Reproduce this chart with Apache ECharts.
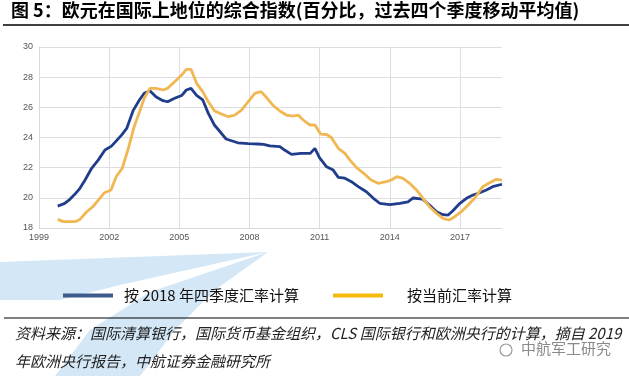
<!DOCTYPE html>
<html>
<head>
<meta charset="utf-8">
<script src="https://cdn.jsdelivr.net/npm/echarts@6/dist/echarts.min.js"></script>
<style>
  * { margin: 0; padding: 0; }
  body { background: #fff; }
  #main { width: 629px; height: 376px; }
</style>
</head>
<body>
<div id="main"></div>
<script>
// 按2018年四季度汇率计算
var blueYears = [1999.8, 2000.1, 2000.32, 2000.54, 2000.75, 2000.97, 2001.25, 2001.53, 2001.82, 2002.1,
  2002.53, 2002.75, 2003.03, 2003.3, 2003.5, 2003.74, 2004.0, 2004.3, 2004.5, 2004.8,
  2005.1, 2005.3, 2005.5, 2005.74, 2006.0, 2006.24, 2006.5, 2006.8, 2007.0, 2007.5,
  2007.95, 2008.37, 2008.6, 2008.87, 2009.3, 2009.5, 2009.8, 2010.2, 2010.6, 2010.8,
  2011.0, 2011.3, 2011.58, 2011.8, 2012.08, 2012.36, 2012.65, 2013.0, 2013.3, 2013.57,
  2014.0, 2014.43, 2014.78, 2015.0, 2015.4, 2015.7, 2016.0, 2016.28, 2016.5, 2016.7,
  2017.0, 2017.28, 2017.56, 2017.85, 2018.13, 2018.4, 2018.8];
var blueValues = [19.45, 19.63, 19.9, 20.25, 20.63, 21.18, 21.96, 22.5, 23.17, 23.43,
  24.16, 24.6, 25.8, 26.5, 26.93, 27.1, 26.7, 26.44, 26.37, 26.6,
  26.78, 27.15, 27.26, 26.8, 26.5, 25.6, 24.83, 24.28, 23.9, 23.65,
  23.6, 23.57, 23.55, 23.45, 23.4, 23.17, 22.88, 22.95, 22.95, 23.28,
  22.65, 22.06, 21.84, 21.36, 21.3, 21.07, 20.74, 20.4, 19.97, 19.64,
  19.55, 19.64, 19.74, 19.99, 19.92, 19.52, 19.08, 18.88, 18.86, 19.14,
  19.64, 19.97, 20.19, 20.34, 20.52, 20.74, 20.9];

// 按当前汇率计算
var goldYears = [1999.8, 2000.04, 2000.54, 2000.75, 2001.04, 2001.3, 2001.6, 2001.8, 2002.08, 2002.3,
  2002.56, 2002.8, 2003.07, 2003.3, 2003.5, 2003.74, 2004.0, 2004.3, 2004.5, 2004.8,
  2005.1, 2005.3, 2005.5, 2005.74, 2006.0, 2006.24, 2006.5, 2006.8, 2007.1, 2007.37,
  2007.66, 2007.94, 2008.23, 2008.5, 2008.7, 2009.0, 2009.3, 2009.58, 2009.87, 2010.08,
  2010.3, 2010.58, 2010.8, 2011.05, 2011.3, 2011.5, 2011.8, 2012.08, 2012.3, 2012.58,
  2012.86, 2013.2, 2013.5, 2013.86, 2014.07, 2014.3, 2014.57, 2014.85, 2015.14, 2015.42,
  2015.7, 2016.0, 2016.28, 2016.54, 2016.78, 2017.06, 2017.35, 2017.63, 2017.98, 2018.27,
  2018.56, 2018.8];
var goldValues = [18.57, 18.42, 18.42, 18.57, 19.08, 19.41, 19.97, 20.34, 20.52, 21.4,
  21.96, 23.17, 24.72, 25.71, 26.6, 27.26, 27.26, 27.15, 27.26, 27.7,
  28.14, 28.52, 28.52, 27.59, 27.04, 26.37, 25.78, 25.56, 25.38, 25.49,
  25.82, 26.37, 26.93, 27.04, 26.7, 26.15, 25.76, 25.49, 25.42, 25.49,
  25.16, 24.83, 24.83, 24.22, 24.2, 24.0, 23.28, 22.95, 22.5, 22.0,
  21.66, 21.18, 20.96, 21.07, 21.18, 21.4, 21.29, 20.96, 20.52, 19.97,
  19.41, 18.97, 18.64, 18.53, 18.75, 19.08, 19.52, 19.97, 20.74, 21.0,
  21.23, 21.18];

var xTicks = [1999, 2002, 2005, 2008, 2011, 2014, 2017];
var seriesNames = ['按 2018 年四季度汇率计算', '按当前汇率计算'];

function pairs(xs, ys) {
  return xs.map(function (x, i) { return [x, ys[i]]; });
}

var chart = echarts.init(document.getElementById('main'));
var cjk = '"Noto Sans CJK SC", sans-serif';
var wmBlue = '#d3e7f6';

chart.setOption({
  backgroundColor: '#fff',
  animation: false,
  grid: { left: 39, right: 127, top: 47, bottom: 148 },
  xAxis: {
    type: 'value',
    min: 1999,
    max: 2018.8,
    axisLine: { show: true, lineStyle: { color: '#d9d9d9', width: 1 } },
    axisTick: { show: false, customValues: xTicks },
    axisLabel: {
      customValues: xTicks,
      formatter: function (v) { return String(v); },
      color: '#555', fontSize: 9, fontFamily: 'Arial', margin: 5
    },
    splitLine: { show: true, lineStyle: { color: '#dedede', width: 1 } }
  },
  yAxis: {
    type: 'value',
    min: 18,
    max: 30,
    interval: 2,
    axisLine: { show: true, lineStyle: { color: '#d9d9d9', width: 1 } },
    axisTick: { show: false },
    axisLabel: { color: '#555', fontSize: 9, fontFamily: 'Arial', margin: 6 },
    splitLine: { show: true, lineStyle: { color: '#dedede', width: 1 } }
  },
  legend: {
    left: 58,
    top: 283,
    z: 20,
    icon: 'rect',
    itemWidth: 50,
    itemHeight: 4,
    itemGap: 34,
    textStyle: { fontSize: 15, color: '#111', fontFamily: cjk, padding: [0, 0, 0, 6] },
    data: [
      { name: seriesNames[0], itemStyle: { color: '#3d5b8c' } },
      { name: seriesNames[1], itemStyle: { color: '#f4bb0c' },
        textStyle: { fontSize: 15, color: '#111', fontFamily: cjk, padding: [0, 0, 0, 19] } }
    ]
  },
  graphic: [
    // 背景水印（浅蓝色）
    {
      type: 'polygon', z: 1, silent: true,
      shape: { points: [[0, 262], [268, 252], [120, 285], [60, 300], [0, 300]] },
      style: { fill: wmBlue }
    },
    {
      type: 'polygon', z: 1, silent: true,
      shape: { points: [[268, 252], [150, 292], [90, 330], [55, 376], [140, 376], [175, 330], [215, 290]] },
      style: { fill: wmBlue }
    },
    {
      type: 'text', z: 10, left: 11, top: 1,
      style: { text: '图 5：欧元在国际上地位的综合指数(百分比，过去四个季度移动平均值)', font: 'bold 18px ' + cjk, fill: '#000' }
    },
    { type: 'line', z: 10, shape: { x1: 3, y1: 25, x2: 629, y2: 25 }, style: { stroke: '#000', lineWidth: 1.5 } },
    { type: 'line', z: 10, shape: { x1: 4, y1: 318, x2: 629, y2: 318 }, style: { stroke: '#000', lineWidth: 1.2 } },
    {
      type: 'text', z: 10, left: 15, top: 326,
      style: { text: '资料来源：国际清算银行，国际货币基金组织，CLS 国际银行和欧洲央行的计算，摘自 2019', font: 'italic 15px ' + cjk, fill: '#222' }
    },
    {
      type: 'text', z: 10, left: 15, top: 354,
      style: { text: '年欧洲央行报告，中航证券金融研究所', font: 'italic 15px ' + cjk, fill: '#222' }
    },
    {
      type: 'circle', z: 10, shape: { cx: 506, cy: 350, r: 6 },
      style: { fill: 'none', stroke: '#9a9a9a', lineWidth: 1.2 }
    },
    {
      type: 'text', z: 10, left: 520, top: 340,
      style: { text: '中航军工研究', font: '15px ' + cjk, fill: '#8a8a8a', stroke: '#fff', lineWidth: 2 }
    }
  ],
  series: [
    {
      name: seriesNames[0],
      type: 'line',
      data: pairs(blueYears, blueValues),
      showSymbol: false,
      color: '#1f3d8a',
      lineStyle: { width: 2.8, color: '#1f3d8a' }
    },
    {
      name: seriesNames[1],
      type: 'line',
      data: pairs(goldYears, goldValues),
      showSymbol: false,
      color: '#f0b753',
      lineStyle: { width: 2.8, color: '#f0b753' }
    }
  ]
});
</script>
</body>
</html>
